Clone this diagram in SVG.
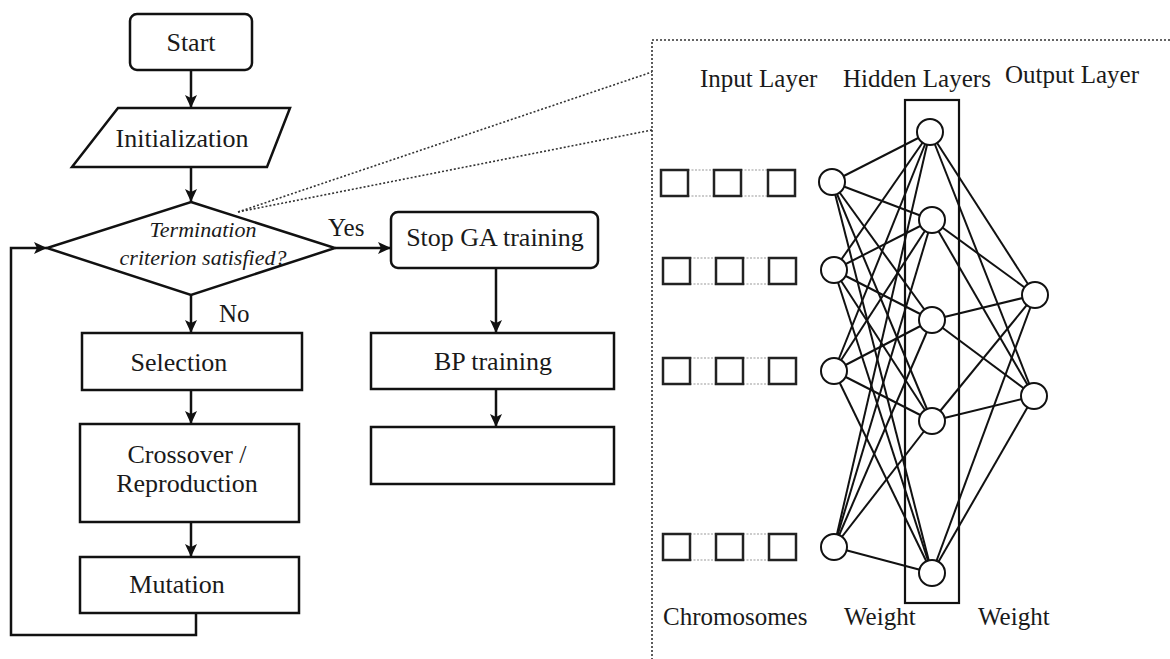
<svg xmlns="http://www.w3.org/2000/svg" width="1170" height="659" viewBox="0 0 1170 659">
<defs>
<marker id="arr" markerUnits="userSpaceOnUse" markerWidth="14" markerHeight="14" refX="13" refY="6" orient="auto">
<path d="M0,0 L13,6 L0,12 L3,6 z" fill="#111"/>
</marker>
<style>
.box{fill:#fff;stroke:#111;stroke-width:2.5}
.t{font-family:"Liberation Serif","Times New Roman",serif;font-size:26px;fill:#1a1a1a;text-anchor:middle}
.ti{font-family:"Liberation Serif","Times New Roman",serif;font-size:22px;font-style:italic;fill:#1a1a1a;text-anchor:middle}
.lbl{font-family:"Liberation Serif","Times New Roman",serif;font-size:25px;fill:#1a1a1a}
.c{fill:none;stroke:#111;stroke-width:2.5}
.ca{fill:none;stroke:#111;stroke-width:2.5;marker-end:url(#arr)}
.dot{fill:none;stroke:#333;stroke-width:1.6;stroke-dasharray:2 2}
.gd{fill:none;stroke:#999;stroke-width:1.2;stroke-dasharray:2 1.5}
.nl{stroke:#111;stroke-width:2}
.nn{fill:#fff;stroke:#111;stroke-width:2}
.sq{fill:#fff;stroke:#222;stroke-width:2.5}
</style>
</defs>
<rect width="1170" height="659" fill="#fff"/>

<g id="connectors">
<line class="ca" x1="191" y1="70" x2="191" y2="108"/>
<line class="ca" x1="191" y1="167" x2="191" y2="202"/>
<line class="ca" x1="335" y1="248" x2="391" y2="248"/>
<line class="ca" x1="191" y1="295" x2="191" y2="333"/>
<line class="ca" x1="191" y1="390" x2="191" y2="424"/>
<line class="ca" x1="191" y1="522" x2="191" y2="557"/>
<polyline class="ca" points="196,613 196,635 11,635 11,248 47,248"/>
<line class="ca" x1="496" y1="268" x2="496" y2="333"/>
<line class="ca" x1="496" y1="389" x2="496" y2="427"/>
<line class="dot" x1="238" y1="212" x2="652" y2="72"/>
<line class="dot" x1="238" y1="212" x2="652" y2="130"/>
<text class="lbl" x="328" y="236">Yes</text>
<text class="lbl" x="219" y="322">No</text>
</g>

<g id="start"><rect class="box" x="130" y="14" width="122" height="56" rx="7"/><text class="t" x="191" y="51">Start</text></g>
<g id="init"><polygon class="box" points="118,108 290,108 267,167 72,167"/><text class="t" x="182" y="147">Initialization</text></g>
<g id="decision"><polygon class="box" points="191,202 335,248 191,295 47,248"/><text class="ti" x="203" y="237">Termination</text><text class="ti" x="203" y="265">criterion satisfied?</text></g>
<g id="selection"><rect class="box" x="82" y="333" width="220" height="57"/><text class="t" x="179" y="371">Selection</text></g>
<g id="crossover"><rect class="box" x="80" y="424" width="219" height="98"/><text class="t" x="187" y="463">Crossover /</text><text class="t" x="187" y="492">Reproduction</text></g>
<g id="mutation"><rect class="box" x="80" y="557" width="219" height="56"/><text class="t" x="177" y="593">Mutation</text></g>
<g id="stopga"><rect class="box" x="391" y="212" width="207" height="56" rx="7"/><text class="t" x="495" y="246">Stop GA training</text></g>
<g id="bp"><rect class="box" x="371" y="333" width="243" height="56"/><text class="t" x="493" y="370">BP training</text></g>
<g id="empty"><rect class="box" x="371" y="427" width="243" height="57"/></g>

<g id="frame"><polyline class="dot" points="1170,40 652,40 652,659"/></g>

<g id="network">
<text class="lbl" x="700" y="87">Input Layer</text>
<text class="lbl" x="843" y="87">Hidden Layers</text>
<text class="lbl" x="1005" y="83">Output Layer</text>
<text class="lbl" x="663" y="625">Chromosomes</text>
<text class="lbl" x="844" y="625">Weight</text>
<text class="lbl" x="978" y="625">Weight</text>
<rect x="905" y="100" width="54" height="503" fill="none" stroke="#111" stroke-width="2.2"/>
<g id="edges">
<line class="nl" x1="832" y1="182" x2="930" y2="132"/><line class="nl" x1="832" y1="182" x2="932" y2="220"/><line class="nl" x1="832" y1="182" x2="932" y2="320"/><line class="nl" x1="832" y1="182" x2="932" y2="421"/><line class="nl" x1="832" y1="182" x2="932" y2="573"/>
<line class="nl" x1="834" y1="270" x2="930" y2="132"/><line class="nl" x1="834" y1="270" x2="932" y2="220"/><line class="nl" x1="834" y1="270" x2="932" y2="320"/><line class="nl" x1="834" y1="270" x2="932" y2="421"/><line class="nl" x1="834" y1="270" x2="932" y2="573"/>
<line class="nl" x1="834" y1="371" x2="930" y2="132"/><line class="nl" x1="834" y1="371" x2="932" y2="220"/><line class="nl" x1="834" y1="371" x2="932" y2="320"/><line class="nl" x1="834" y1="371" x2="932" y2="421"/><line class="nl" x1="834" y1="371" x2="932" y2="573"/>
<line class="nl" x1="834" y1="547" x2="930" y2="132"/><line class="nl" x1="834" y1="547" x2="932" y2="220"/><line class="nl" x1="834" y1="547" x2="932" y2="320"/><line class="nl" x1="834" y1="547" x2="932" y2="421"/><line class="nl" x1="834" y1="547" x2="932" y2="573"/>
<line class="nl" x1="930" y1="132" x2="1035" y2="295"/><line class="nl" x1="930" y1="132" x2="1034" y2="396"/>
<line class="nl" x1="932" y1="220" x2="1035" y2="295"/><line class="nl" x1="932" y1="220" x2="1034" y2="396"/>
<line class="nl" x1="932" y1="320" x2="1035" y2="295"/><line class="nl" x1="932" y1="320" x2="1034" y2="396"/>
<line class="nl" x1="932" y1="421" x2="1035" y2="295"/><line class="nl" x1="932" y1="421" x2="1034" y2="396"/>
<line class="nl" x1="932" y1="573" x2="1035" y2="295"/><line class="nl" x1="932" y1="573" x2="1034" y2="396"/>
</g>
<g id="inputs">
<circle class="nn" cx="832" cy="182" r="13"/><circle class="nn" cx="834" cy="270" r="13"/><circle class="nn" cx="834" cy="371" r="13"/><circle class="nn" cx="834" cy="547" r="13"/>
</g>
<g id="hidden">
<circle class="nn" cx="930" cy="132" r="13"/><circle class="nn" cx="932" cy="220" r="13"/><circle class="nn" cx="932" cy="320" r="13"/><circle class="nn" cx="932" cy="421" r="13"/><circle class="nn" cx="932" cy="573" r="13"/>
</g>
<g id="outputs">
<circle class="nn" cx="1035" cy="295" r="13"/><circle class="nn" cx="1034" cy="396" r="13"/>
</g>
<g id="chromosomes">
<g><line class="gd" x1="688" y1="170" x2="713" y2="170"/><line class="gd" x1="688" y1="196" x2="713" y2="196"/><line class="gd" x1="741" y1="170" x2="768" y2="170"/><line class="gd" x1="741" y1="196" x2="768" y2="196"/>
<rect class="sq" x="661" y="170" width="27" height="26"/><rect class="sq" x="714" y="170" width="27" height="26"/><rect class="sq" x="768" y="170" width="27" height="26"/></g>
<g><line class="gd" x1="690" y1="258" x2="716" y2="258"/><line class="gd" x1="690" y1="284" x2="716" y2="284"/><line class="gd" x1="743" y1="258" x2="769" y2="258"/><line class="gd" x1="743" y1="284" x2="769" y2="284"/>
<rect class="sq" x="663" y="258" width="27" height="26"/><rect class="sq" x="716" y="258" width="27" height="26"/><rect class="sq" x="769" y="258" width="27" height="26"/></g>
<g><line class="gd" x1="690" y1="358" x2="716" y2="358"/><line class="gd" x1="690" y1="384" x2="716" y2="384"/><line class="gd" x1="743" y1="358" x2="769" y2="358"/><line class="gd" x1="743" y1="384" x2="769" y2="384"/>
<rect class="sq" x="663" y="358" width="27" height="26"/><rect class="sq" x="716" y="358" width="27" height="26"/><rect class="sq" x="769" y="358" width="27" height="26"/></g>
<g><line class="gd" x1="690" y1="534" x2="716" y2="534"/><line class="gd" x1="690" y1="560" x2="716" y2="560"/><line class="gd" x1="743" y1="534" x2="769" y2="534"/><line class="gd" x1="743" y1="560" x2="769" y2="560"/>
<rect class="sq" x="663" y="534" width="27" height="26"/><rect class="sq" x="716" y="534" width="27" height="26"/><rect class="sq" x="769" y="534" width="27" height="26"/></g>
</g>
</g>
</svg>
